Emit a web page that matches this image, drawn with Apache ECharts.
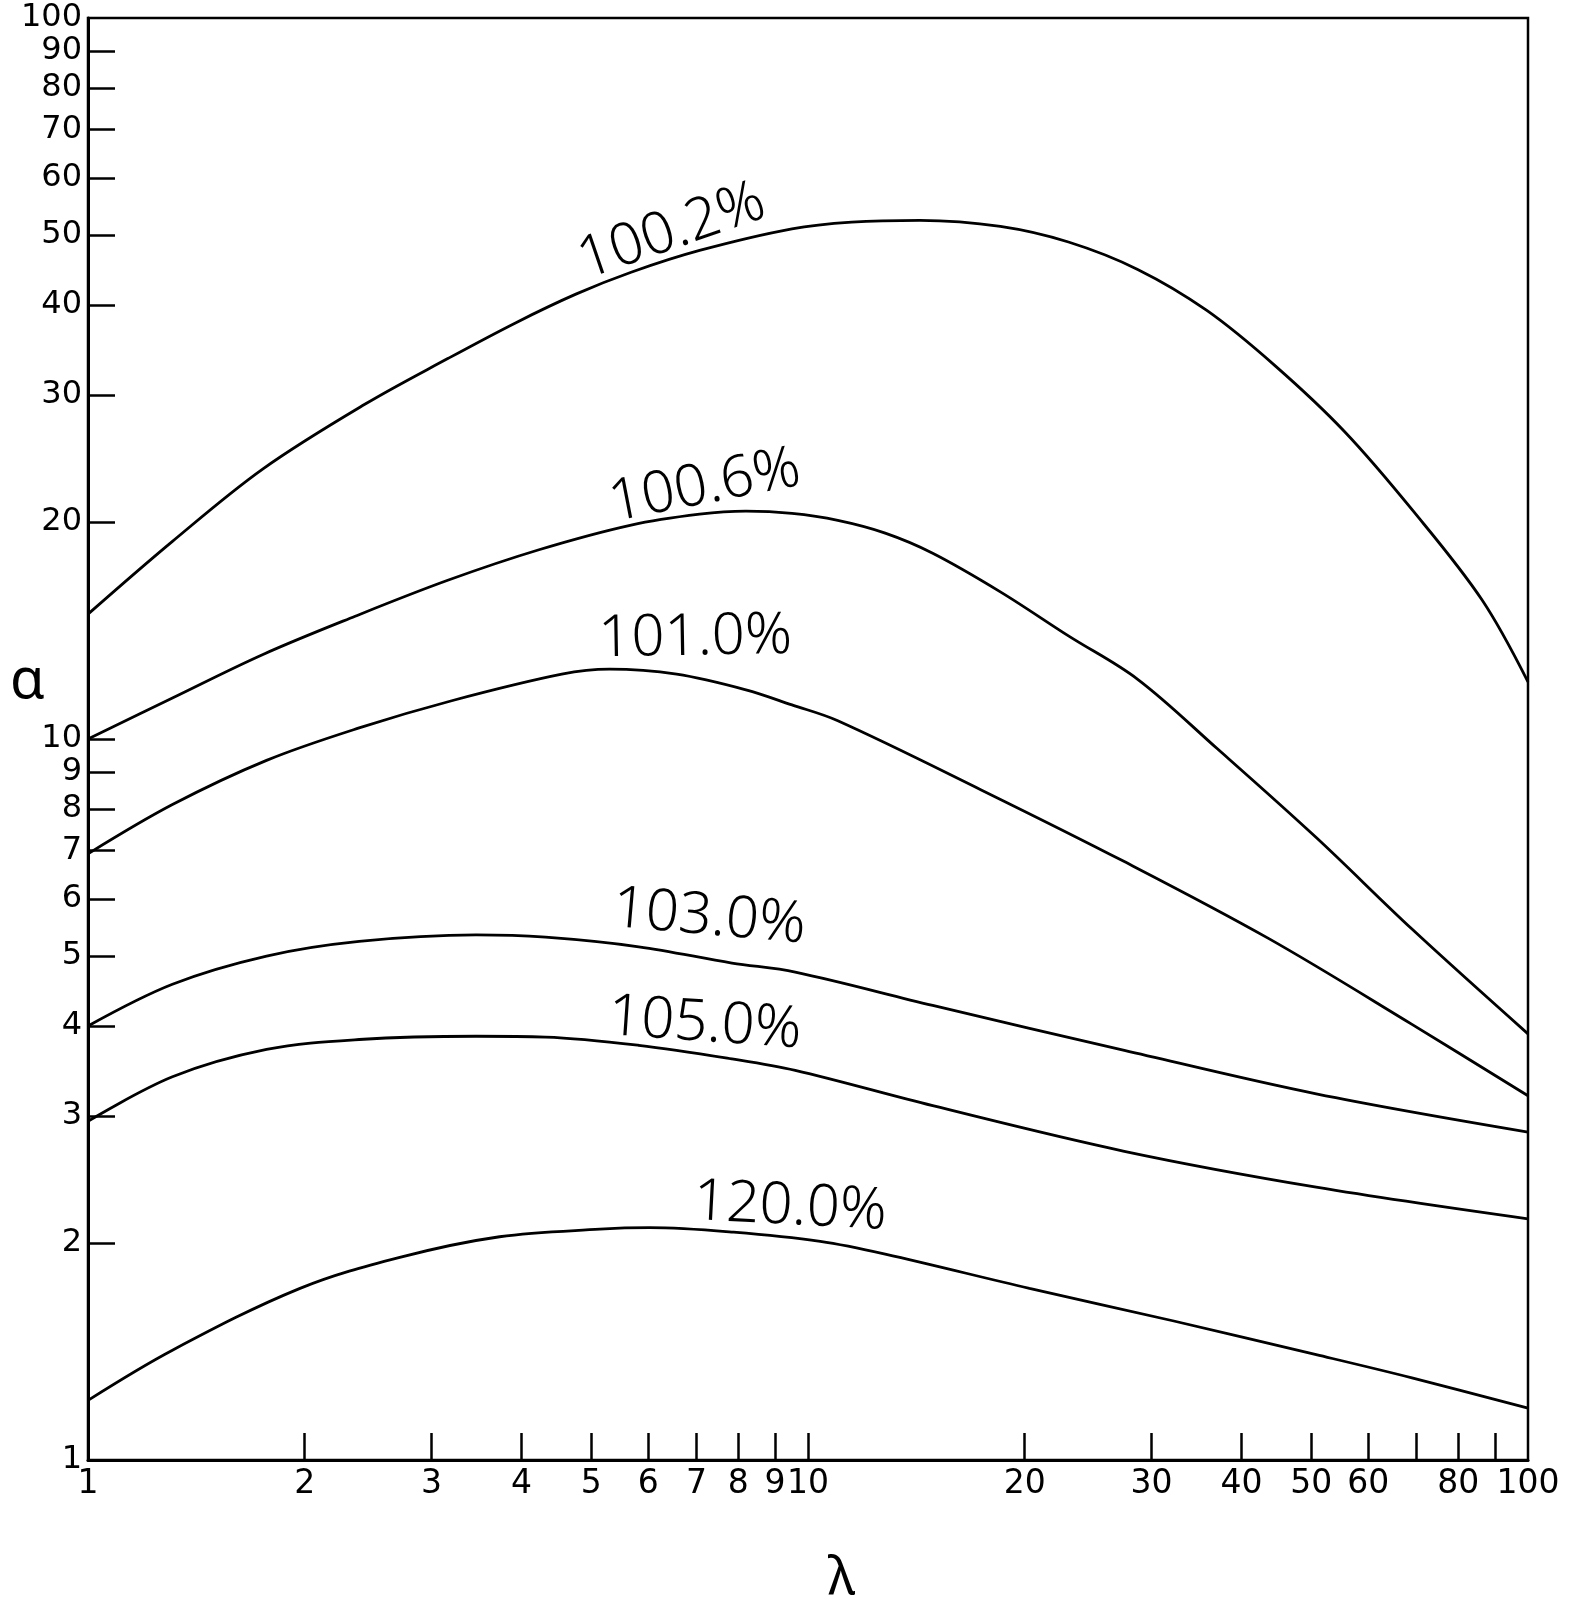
<!DOCTYPE html>
<html>
<head>
<meta charset="utf-8">
<script src="https://cdn.jsdelivr.net/npm/echarts@6/dist/echarts.min.js"></script>
<style>
  html, body { margin: 0; padding: 0; background: #fff; }
  #chart { width: 1573px; height: 1597px; }
</style>
</head>
<body>
<div id="chart"></div>
<script>
// λ values (x) and α values (y) along each efficiency contour
const lam1002 = [1, 1.31, 1.75, 2.42, 3.16, 3.93, 4.76, 5.68, 7.07, 9.5, 11.5, 14.3, 18.5, 23.0, 28.7, 35.8, 44.6, 55.6, 69.3, 86.3, 100];
const alpha1002 = [14.9, 18.8, 23.7, 29.1, 33.7, 37.8, 41.4, 44.4, 47.6, 51.0, 52.1, 52.4, 51.4, 48.9, 44.8, 39.3, 32.9, 26.7, 20.7, 15.6, 12.0];

const lam1006 = [1, 1.31, 1.75, 2.35, 3.16, 4.23, 5.68, 7.07, 8.2, 9.5, 11.0, 12.8, 14.9, 18.5, 23.0, 28.7, 37, 50.8, 69, 100];
const alpha1006 = [10.0, 11.4, 13.1, 14.8, 16.6, 18.3, 19.8, 20.5, 20.7, 20.55, 20.1, 19.3, 18.1, 16.0, 13.9, 12.1, 9.7, 7.3, 5.45, 3.9];

const lam1010 = [1, 1.31, 1.77, 2.38, 3.2, 4.55, 5.3, 6.57, 8.2, 9.5, 11.0, 17.4, 27.5, 43.6, 69, 100];
const alpha1010 = [6.93, 8.11, 9.34, 10.36, 11.3, 12.3, 12.5, 12.3, 11.7, 11.15, 10.6, 8.5, 6.76, 5.29, 4.02, 3.2];

const lam1030 = [1, 1.31, 1.77, 2.38, 3.46, 4.32, 5.82, 7.84, 9.6, 14.9, 27.5, 50.8, 100];
const alpha1030 = [4.0, 4.57, 5.0, 5.24, 5.35, 5.31, 5.15, 4.89, 4.75, 4.27, 3.70, 3.22, 2.85];

const lam1050 = [1, 1.31, 1.77, 2.38, 3.46, 4.32, 5.82, 7.84, 9.6, 14.9, 27.5, 50.8, 100];
const alpha1050 = [2.95, 3.40, 3.71, 3.83, 3.87, 3.86, 3.76, 3.60, 3.47, 3.10, 2.68, 2.39, 2.16];

const lam1200 = [1, 1.31, 1.97, 2.71, 3.73, 5.14, 6.03, 7.88, 10.4, 12.8, 20.3, 32.1, 50.8, 69, 100];
const alpha1200 = [1.21, 1.42, 1.73, 1.91, 2.04, 2.09, 2.10, 2.07, 2.01, 1.93, 1.73, 1.56, 1.40, 1.30, 1.18];

const curveNames = ['100.2%', '100.6%', '101.0%', '103.0%', '105.0%', '120.0%'];

// tick marks and tick labels on the two log axes
const xTickVals = [2, 3, 4, 5, 6, 7, 8, 9, 10, 20, 30, 40, 50, 60, 70, 80, 90];
const xLabelVals = [1, 2, 3, 4, 5, 6, 7, 8, 9, 10, 20, 30, 40, 50, 60, 80, 100];
const yTickVals = [2, 3, 4, 5, 6, 7, 8, 9, 10, 20, 30, 40, 50, 60, 70, 80, 90];
const yLabelVals = [1, 2, 3, 4, 5, 6, 7, 8, 9, 10, 20, 30, 40, 50, 60, 70, 80, 90, 100];

// where each contour name sits (data coords) and its tilt in degrees
const nameAnchors = [
  { at: [6.47, 50.5], rotate: 19 },
  { at: [7.19, 22.4], rotate: 11 },
  { at: [6.97, 13.8], rotate: 1 },
  { at: [7.29, 5.65], rotate: -5 },
  { at: [7.19, 4.02], rotate: -4 },
  { at: [9.44, 2.24], rotate: -3 }
];

const curves = [
  [lam1002, alpha1002],
  [lam1006, alpha1006],
  [lam1010, alpha1010],
  [lam1030, alpha1030],
  [lam1050, alpha1050],
  [lam1200, alpha1200]
];

const FONT = '"Noto Sans", "DejaVu Sans", sans-serif';
const TICK_FONT = '"DejaVu Sans", "Noto Sans", sans-serif';
const INK = '#000';

const chart = echarts.init(document.getElementById('chart'), null, { renderer: 'canvas' });

const series = curves.map(function (c, i) {
  const pts = c[0].map(function (x, k) { return [x, c[1][k]]; });
  return {
    name: curveNames[i],
    type: 'line',
    data: pts,
    showSymbol: false,
    smooth: 0.35,
    silent: true,
    lineStyle: { color: INK, width: 2.8 },
    markPoint: {
      symbol: 'circle',
      symbolSize: 0,
      silent: true,
      data: [{
        coord: nameAnchors[i].at,
        label: {
          show: true,
          position: 'inside',
          formatter: curveNames[i],
          rotate: nameAnchors[i].rotate,
          fontFamily: FONT,
          fontWeight: 300,
          fontSize: 58,
          color: INK
        }
      }]
    }
  };
});

const intLabel = function (v) { return String(Math.round(v)); };

chart.setOption({
  backgroundColor: '#fff',
  animation: false,
  grid: {
    left: 88, right: 45, top: 18, bottom: 137,
    show: true, borderColor: INK, borderWidth: 2.5,
    containLabel: false,
    outerBoundsMode: 'none'
  },
  xAxis: {
    type: 'log', logBase: 10, min: 1, max: 100,
    axisLine: { show: true, lineStyle: { color: INK, width: 3 } },
    axisTick: { show: true, inside: true, length: 27, customValues: xTickVals, lineStyle: { color: INK, width: 2.5 } },
    minorTick: { show: false },
    splitLine: { show: false },
    axisLabel: {
      customValues: xLabelVals, formatter: intLabel,
      showMinLabel: true, showMaxLabel: true, hideOverlap: false,
      fontFamily: TICK_FONT, fontSize: 33, color: INK, margin: 8
    }
  },
  yAxis: {
    type: 'log', logBase: 10, min: 1, max: 100,
    axisLine: { show: true, lineStyle: { color: INK, width: 3 } },
    axisTick: { show: true, inside: true, length: 27, customValues: yTickVals, lineStyle: { color: INK, width: 2.5 } },
    minorTick: { show: false },
    splitLine: { show: false },
    axisLabel: {
      customValues: yLabelVals, formatter: intLabel,
      showMinLabel: true, showMaxLabel: true, hideOverlap: false,
      fontFamily: TICK_FONT, fontSize: 32, color: INK, margin: 6
    }
  },
  graphic: [
    { type: 'text', left: 10, top: 654, style: { text: 'α', font: '56px ' + FONT, fill: INK } },
    { type: 'text', left: 828, top: 1553, style: { text: 'λ', font: '52px ' + FONT, fill: INK } }
  ],
  series: series
});
</script>
</body>
</html>
